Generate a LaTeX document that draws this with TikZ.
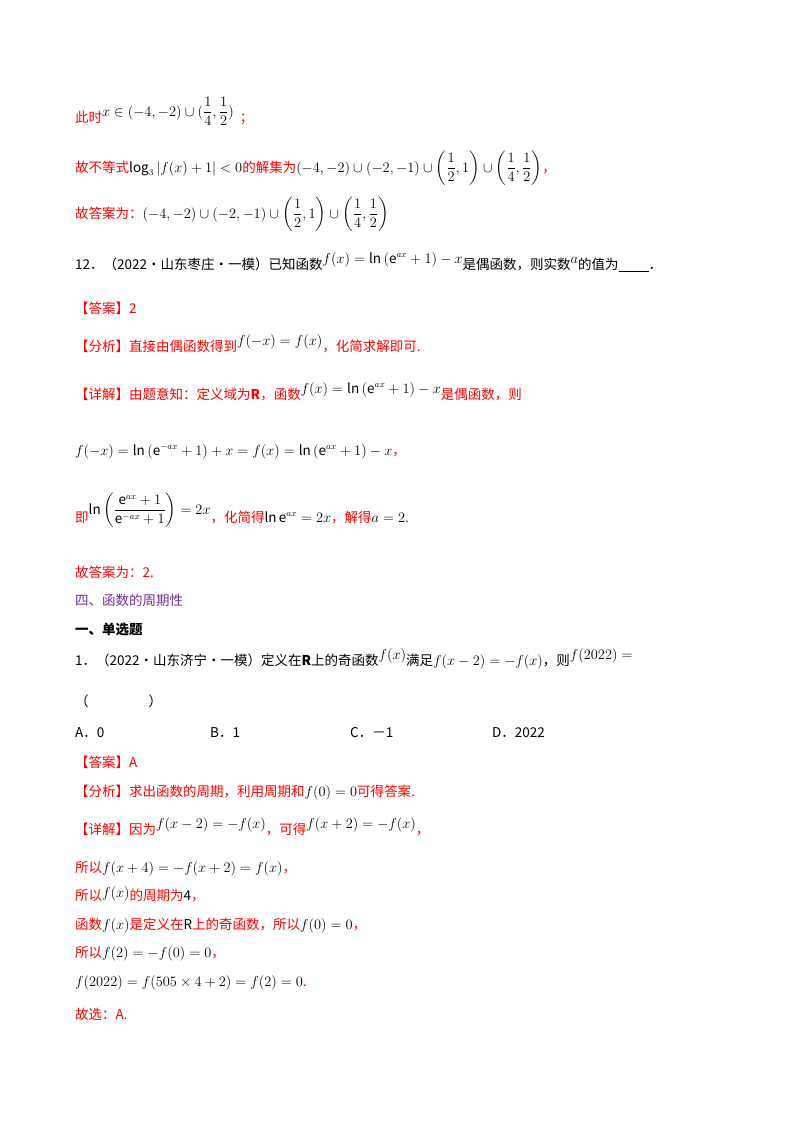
\documentclass[tikz,border=0pt]{standalone}
\usepackage{amsmath}
\usepackage{fontspec}
\setmainfont{Noto Sans CJK SC}
\definecolor{rd}{RGB}{255,0,0}
\definecolor{pp}{RGB}{112,48,160}
\newcommand{\R}[1]{{\color{rd}#1}}
\newcommand{\up}[1]{\raisebox{6pt}{$#1$}}
\begin{document}
\begin{tikzpicture}[x=1pt,y=-1pt,
  ln/.style={anchor=base west,inner sep=0pt,font=\fontsize{13.5}{16}\selectfont}]
\useasboundingbox (0,0) rectangle (800,1132);
\fill[white] (0,0) rectangle (800,1132);
\node[ln] (l1) at (75,122) {\R{此时}\up{x\in(-4,-2)\cup(\dfrac14,\dfrac12)}\R{\ \ ；}};
\node[ln] (l2) at (75,172) {\R{故不等式}$\log_3\left|f(x)+1\right|<0$\R{的解集为}$(-4,-2)\cup(-2,-1)\cup\left(\dfrac12,1\right)\cup\left(\dfrac14,\dfrac12\right)$\R{，}};
\node[ln] (l3) at (75,218) {\R{故答案为：}$(-4,-2)\cup(-2,-1)\cup\left(\dfrac12,1\right)\cup\left(\dfrac14,\dfrac12\right)$};
\node[ln] (l4) at (75,269) {12．（2022•山东枣庄•一模）已知函数\up{f(x)=\ln\left(\mathrm{e}^{ax}+1\right)-x}是偶函数，则实数\up{a}的值为\underline{\hspace{30pt}}．};
\node[ln] (l5) at (75,313) {\R{【答案】2}};
\node[ln] (l6) at (75,351) {\R{【分析】直接由偶函数得到}\up{f(-x)=f(x)}\R{，化简求解即可.}};
\node[ln] (l7) at (75,399) {\R{【详解】由题意知：定义域为\textbf{R}，函数}\up{f(x)=\ln\left(\mathrm{e}^{ax}+1\right)-x}\R{是偶函数，则}};
\node[ln] (l8) at (75,455) {$f(-x)=\ln\left(\mathrm{e}^{-ax}+1\right)+x=f(x)=\ln\left(\mathrm{e}^{ax}+1\right)-x$\R{，}};
\node[ln] (l9) at (75,522) {\R{即}\raisebox{8pt}{$\ln\left(\dfrac{\mathrm{e}^{ax}+1}{\mathrm{e}^{-ax}+1}\right)=2x$}\R{，化简得}$\ln\mathrm{e}^{ax}=2x$\R{，解得}$a=2$\R{.}};
\node[ln] (l10) at (75,577) {\R{故答案为：2.}};
\node[ln] (l11) at (75,605) {\color{pp}四、函数的周期性};
\node[ln] (l12) at (75,634) {\textbf{一、单选题}};
\node[ln] (l13) at (75,665) {1．（2022•山东济宁•一模）定义在\textbf{R}上的奇函数\up{f(x)}满足$f(x-2)=-f(x)$，则\up{f(2022)=}};
\node[ln] (l14) at (75,706) {（\hspace{60pt}）};
\node[ln] (a) at (75,737) {A．0};
\node[ln] (b) at (210,737) {B．1};
\node[ln] (c) at (350,737) {C．－1};
\node[ln] (d) at (492,737) {D．2022};
\node[ln] (l16) at (75,767) {\R{【答案】A}};
\node[ln] (l17) at (75,796) {\R{【分析】求出函数的周期，利用周期和}$f(0)=0$\R{可得答案.}};
\node[ln] (l18) at (75,834) {\R{【详解】因为}\up{f(x-2)=-f(x)}\R{，可得}\up{f(x+2)=-f(x)}\R{，}};
\node[ln] (l19) at (75,872) {\R{所以}$f(x+4)=-f(x+2)=f(x)$\R{，}};
\node[ln] (l20) at (75,900) {\R{所以}\raisebox{3pt}{$f(x)$}\R{的周期为}4\R{，}};
\node[ln] (l21) at (75,929) {\R{函数}$f(x)$\R{是定义在}R\R{上的奇函数，所以}$f(0)=0$\R{，}};
\node[ln] (l22) at (75,957) {\R{所以}$f(2)=-f(0)=0$\R{，}};
\node[ln] (l23) at (75,986) {$f(2022)=f(505\times4+2)=f(2)=0$\R{.}};
\node[ln] (l24) at (75,1019) {\R{故选：A.}};
\end{tikzpicture}
\end{document}
